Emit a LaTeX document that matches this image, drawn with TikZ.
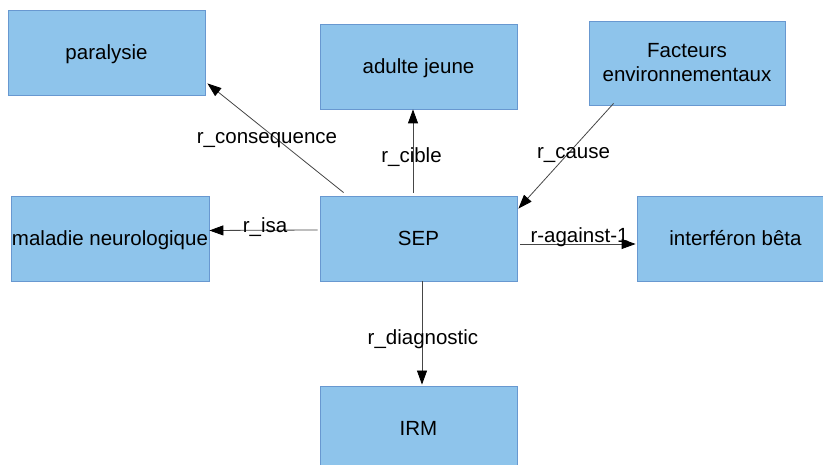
\documentclass[tikz,border=0pt]{standalone}
\usepackage{fontspec}
\setmainfont{Liberation Sans}
\usetikzlibrary{arrows.meta}
\definecolor{boxfill}{RGB}{142,196,235}
\definecolor{boxline}{RGB}{104,152,208}
\definecolor{edgecol}{RGB}{70,70,70}
\begin{document}
\begin{tikzpicture}[x=1pt,y=1pt,
  box/.style={draw=boxline,fill=boxfill,line width=0.8pt,minimum width=197pt,minimum height=85pt,inner sep=0pt,align=center,text height=20pt,text depth=5pt,font=\fontsize{20.5}{24}\selectfont},
  rel/.style={draw=edgecol,line width=0.8pt,-{Triangle[length=14pt,width=10pt,fill=black,color=black]}},
  lab/.style={font=\fontsize{20.5}{24}\selectfont,anchor=base,inner sep=0pt}]
\useasboundingbox (0,0) rectangle (823,465);
\node[box] (par) at (106.5,412.5) {paralysie};
\node[box] (adu) at (418.5,398.5) {adulte jeune};
\node[box,minimum width=196pt,minimum height=84pt,text height={},text depth={}] (fac) at (687,402) {Facteurs\\environnementaux};
\node[box,minimum width=198pt] (mal) at (110,226.5) {maladie neurologique};
\node[box] (sep) at (418.5,226.5) {SEP};
\node[box] (int) at (735.5,226.5) {interféron bêta};
\node[box,minimum height=84pt] (irm) at (418.5,37) {IRM};
\draw[rel] ([xshift=24pt,yshift=3pt]sep.north west) -- ([xshift=2pt,yshift=12pt]par.south east);
\draw[rel] ([xshift=-5.5pt,yshift=3pt]sep.north) -- ([xshift=-5.5pt]adu.south);
\draw[rel] ([xshift=25pt,yshift=2pt]fac.south west) -- ([xshift=1pt,yshift=-13pt]sep.north east);
\draw[rel] ([xshift=-2pt,yshift=8.5pt]sep.west) -- ([yshift=8pt]mal.east);
\draw[rel] ([xshift=3pt,yshift=-5.5pt]sep.east) -- ([xshift=-1pt,yshift=-5.5pt]int.west);
\draw[rel] ([xshift=3.5pt]sep.south) -- ([xshift=3.5pt,yshift=1pt]irm.north);
\node[lab] (lcons) at (267,321) {r\_consequence};
\node[lab] (lcib) at (411.5,302) {r\_cible};
\node[lab] (lcau) at (573.5,306) {r\_cause};
\node[lab] (lisa) at (265,232) {r\_isa};
\node[lab] (lag) at (579.5,222) {r-against-1};
\node[lab] (ldia) at (423,120) {r\_diagnostic};
\end{tikzpicture}
\end{document}
